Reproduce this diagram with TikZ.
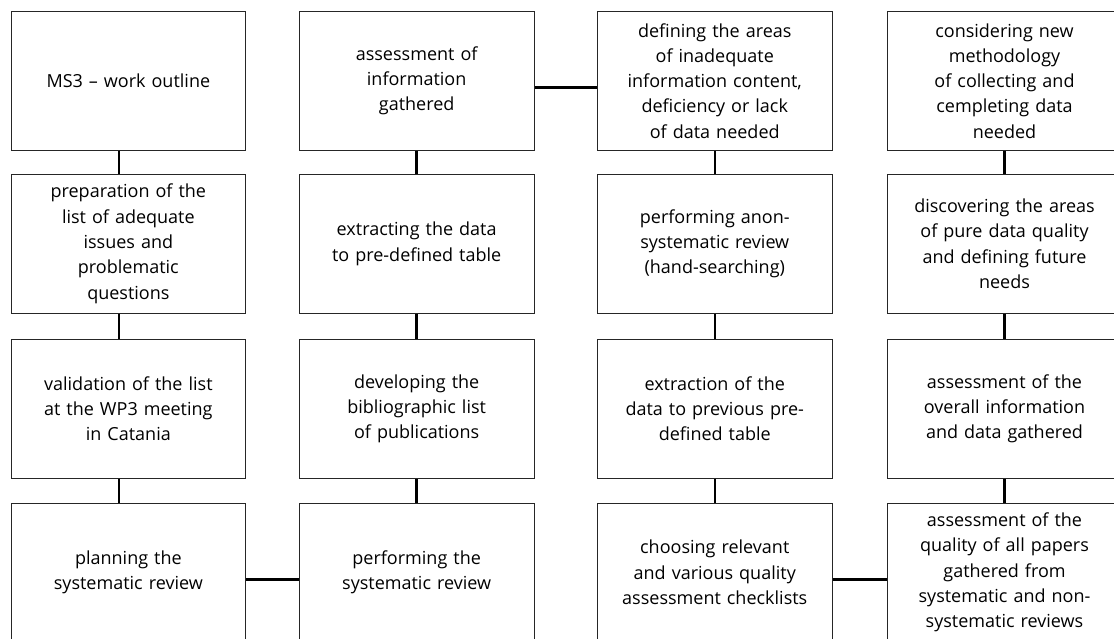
\documentclass[tikz,border=0pt]{standalone}
\usepackage{fontspec}
\setmainfont{Open Sans}
\begin{document}
\begin{tikzpicture}[x=1pt,y=-1pt,
  stepbox/.style={draw=black!85, line width=1pt, minimum width=234.7pt, minimum height=138.5pt,
    text width=230pt, align=center, inner sep=0pt,
    font=\fontsize{18pt}{25.3pt}\selectfont},
  link/.style={draw=black, line width=2.4pt}]
\clip (0,0) rectangle (1114,638);
\fill[white] (0,0) rectangle (1114,638);
% column centres: 128.35, 416.65, 714.75, 1004.5 ; row centres: 80.85, 243.8, 408.8, 572.5
\node[stepbox] (a1) at (128.35,80.85) {MS3 -- work outline};
\node[stepbox] (a2) at (128.35,243.8) {preparation of the\\list of adequate\\issues and\\problematic\\questions};
\node[stepbox] (a3) at (128.35,408.8) {validation of the list\\at the WP3 meeting\\in Catania};
\node[stepbox] (a4) at (128.35,572.5) {planning the\\systematic review};
\node[stepbox] (b1) at (416.65,80.85) {assessment of\\information\\gathered};
\node[stepbox] (b2) at (416.65,243.8) {extracting the data\\to pre-defined table};
\node[stepbox] (b3) at (416.65,408.8) {developing the\\bibliographic list\\of publications};
\node[stepbox] (b4) at (416.65,572.5) {performing the\\systematic review};
\node[stepbox] (c1) at (714.75,80.85) {defining the areas\\of inadequate\\information content,\\deficiency or lack\\of data needed};
\node[stepbox] (c2) at (714.75,243.8) {performing anon-\\systematic review\\(hand-searching)};
\node[stepbox] (c3) at (714.75,408.8) {extraction of the\\data to previous pre-\\defined table};
\node[stepbox] (c4) at (714.75,572.5) {choosing relevant\\and various quality\\assessment checklists};
\node[stepbox] (d1) at (1004.5,80.85) {considering new\\methodology\\of collecting and\\cempleting data\\needed};
\node[stepbox] (d2) at (1004.5,243.8) {discovering the areas\\of pure data quality\\and defining future\\needs};
\node[stepbox] (d3) at (1004.5,408.8) {assessment of the\\overall information\\and data gathered};
\node[stepbox] (d4) at (1004.5,572.5) {assessment of the\\quality of all papers\\gathered from\\systematic and non-\\systematic reviews};
% column 1 connectors (slightly left of centre)
\path[link] ([xshift=-9.3pt]a1.south) -- ([xshift=-9.3pt]a2.north);
\path[link] ([xshift=-9.3pt]a2.south) -- ([xshift=-9.3pt]a3.north);
\path[link] ([xshift=-9.3pt]a3.south) -- ([xshift=-9.3pt]a4.north);
\path[link] ([yshift=-6.8pt]a4.east) -- ([yshift=-6.8pt]b4.west);
\path[link] (b4.north) -- (b3.south);
\path[link] (b3.north) -- (b2.south);
\path[link] (b2.north) -- (b1.south);
\path[link] ([yshift=-6.5pt]b1.east) -- ([yshift=-6.5pt]c1.west);
\path[link] (c1.south) -- (c2.north);
\path[link] (c2.south) -- (c3.north);
\path[link] (c3.south) -- (c4.north);
\path[link] ([yshift=-6.8pt]c4.east) -- ([yshift=-6.8pt]d4.west);
\path[link] (d4.north) -- (d3.south);
\path[link] (d3.north) -- (d2.south);
\path[link] (d2.north) -- (d1.south);
\end{tikzpicture}
\end{document}
